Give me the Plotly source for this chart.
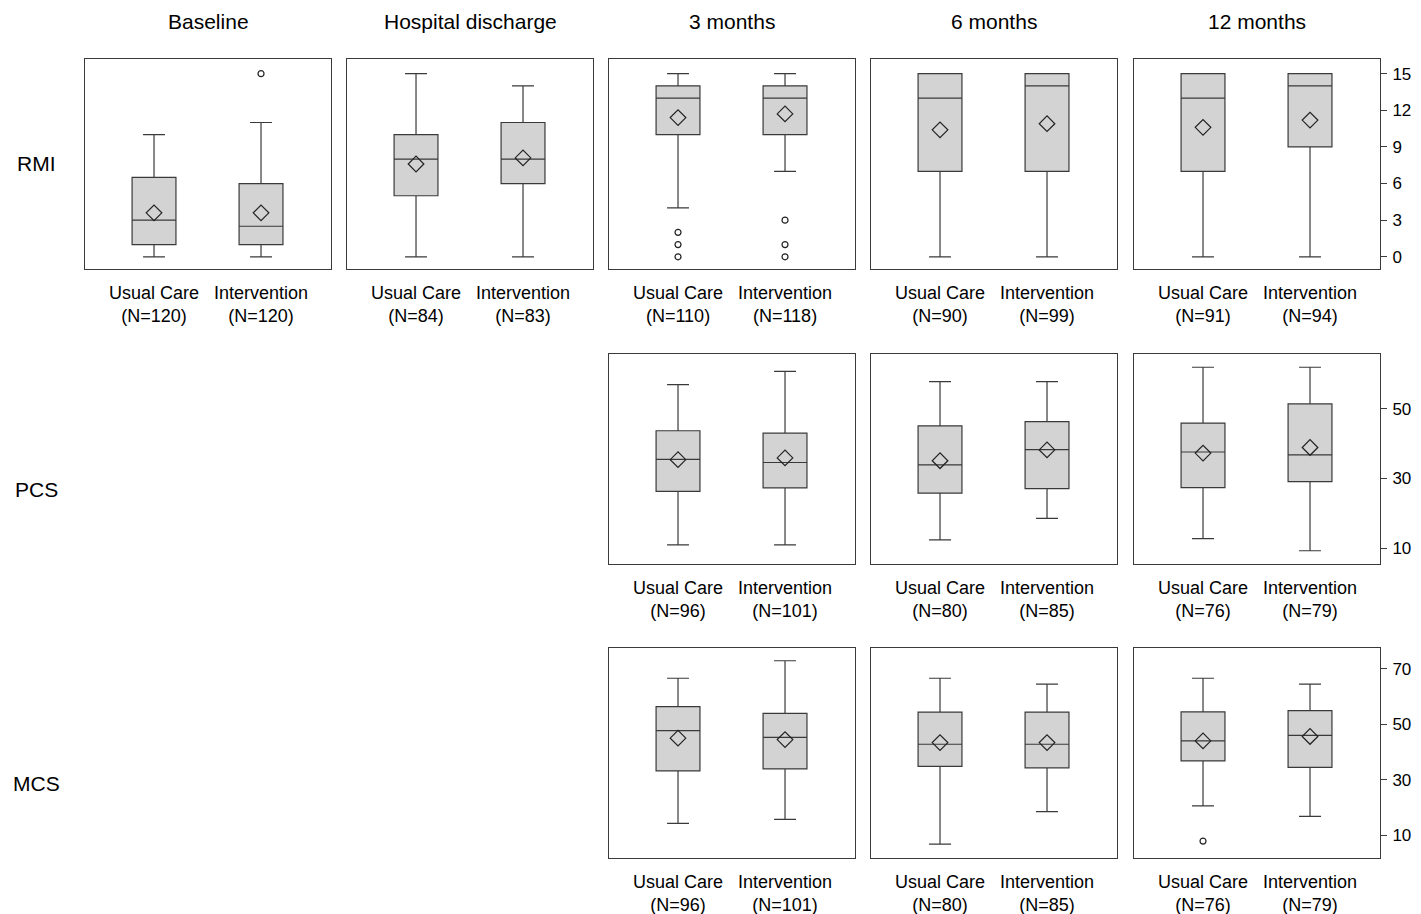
import plotly.graph_objects as go

W, H = 1421, 914
OFF = 7  # page body margin of the html

timepoints = ["Baseline", "Hospital discharge", "3 months", "6 months", "12 months"]
groups = ["Usual Care", "Intervention"]
measures = ["RMI", "PCS", "MCS"]

# RMI (all five time points), each entry = [Usual Care, Intervention]
rmi_n = [[120, 120], [84, 83], [110, 118], [90, 99], [91, 94]]
rmi_lower = [[0, 0], [0, 0], [4, 7], [0, 0], [0, 0]]
rmi_q1 = [[1, 1], [5, 6], [10, 10], [7, 7], [7, 9]]
rmi_median = [[3, 2.5], [8, 8], [13, 13], [13, 14], [13, 14]]
rmi_q3 = [[6.5, 6], [10, 11], [14, 14], [15, 15], [15, 15]]
rmi_upper = [[10, 11], [15, 14], [15, 15], [15, 15], [15, 15]]
rmi_mean = [[3.6, 3.6], [7.6, 8.1], [11.4, 11.7], [10.4, 10.9], [10.6, 11.2]]
rmi_outliers = [[[], [15]], [[], []], [[2, 1, 0], [3, 1, 0]], [[], []], [[], []]]

# PCS (3, 6, 12 months)
pcs_n = [[96, 101], [80, 85], [76, 79]]
pcs_lower = [[11.0, 11.0], [12.4, 18.6], [12.8, 9.3]]
pcs_q1 = [[26.3, 27.3], [25.8, 27.1], [27.4, 29.1]]
pcs_median = [[35.5, 34.6], [33.9, 38.3], [37.6, 36.8]]
pcs_q3 = [[43.7, 43.0], [45.1, 46.3], [45.9, 51.4]]
pcs_upper = [[56.9, 60.7], [57.8, 57.8], [61.9, 61.9]]
pcs_mean = [[35.4, 35.9], [35.1, 38.2], [37.3, 38.9]]
pcs_outliers = [[[], []], [[], []], [[], []]]

# MCS (3, 6, 12 months)
mcs_n = [[96, 101], [80, 85], [76, 79]]
mcs_lower = [[14.3, 15.7], [6.8, 18.5], [20.6, 16.8]]
mcs_q1 = [[33.2, 33.9], [34.8, 34.3], [36.8, 34.5]]
mcs_median = [[47.7, 45.3], [42.8, 42.8], [44.0, 46.0]]
mcs_q3 = [[56.4, 53.9], [54.4, 54.4], [54.5, 54.9]]
mcs_upper = [[66.6, 72.9], [66.6, 64.5], [66.6, 64.5]]
mcs_mean = [[45.0, 44.5], [43.4, 43.4], [44.0, 45.6]]
mcs_outliers = [[[], []], [[], []], [[7.9], []]]

rmi_ticks = [0, 3, 6, 9, 12, 15]
pcs_ticks = [10, 30, 50]
mcs_ticks = [10, 30, 50, 70]

# ---- layout geometry (page pixels) ----
col_x = [(84, 330), (346, 592), (608, 854), (870, 1116), (1133, 1379)]
row_y = [(58, 268), (353, 563), (647, 857)]
y_ranges = [[-1.0, 16.2], [5.5, 65.7], [1.8, 77.5]]
x_range = [-0.645, 1.654]


def px(p):
    return (p - OFF) / W


def py(p):
    return 1 - (p - OFF) / H


FONT = "Liberation Sans, Arial, sans-serif"
LINE = "#3a3a3a"
FILL = "#d3d3d3"

fig = go.Figure()
layout = dict(width=W, height=H, margin=dict(l=0, r=0, t=0, b=0),
              paper_bgcolor="white", plot_bgcolor="white", showlegend=False,
              font=dict(family=FONT, color="black"))

panels = []
for c in range(5):
    panels.append((0, c, c, rmi_n, rmi_lower, rmi_q1, rmi_median, rmi_q3, rmi_upper, rmi_mean, rmi_outliers, rmi_ticks))
for r, (n_, lo, q1, md, q3, up, mn, ou, tk) in enumerate([
        (pcs_n, pcs_lower, pcs_q1, pcs_median, pcs_q3, pcs_upper, pcs_mean, pcs_outliers, pcs_ticks),
        (mcs_n, mcs_lower, mcs_q1, mcs_median, mcs_q3, mcs_upper, mcs_mean, mcs_outliers, mcs_ticks)], start=1):
    for k, c in enumerate([2, 3, 4]):
        panels.append((r, c, k, n_, lo, q1, md, q3, up, mn, ou, tk))

for i, (r, c, k, n_, lo, q1, md, q3, up, mn, ou, tk) in enumerate(panels):
    idx = "" if i == 0 else str(i + 1)
    xa, ya = "x" + idx, "y" + idx
    x0, x1 = col_x[c]
    y0, y1 = row_y[r]
    for g in range(2):
        fig.add_trace(go.Box(
            x=[g], q1=[q1[k][g]], median=[md[k][g]], q3=[q3[k][g]],
            lowerfence=[lo[k][g]], upperfence=[up[k][g]],
            width=0.41, whiskerwidth=0.5, boxpoints=False,
            fillcolor=FILL, line=dict(color=LINE, width=1.2),
            xaxis=xa, yaxis=ya, hoverinfo="skip"))
        fig.add_trace(go.Scatter(
            x=[g], y=[mn[k][g]], mode="markers",
            marker=dict(symbol="diamond-open", size=12, color="#222222",
                        line=dict(width=1.2, color="#222222")),
            xaxis=xa, yaxis=ya, hoverinfo="skip"))
        if ou[k][g]:
            fig.add_trace(go.Scatter(
                x=[g] * len(ou[k][g]), y=ou[k][g], mode="markers",
                marker=dict(symbol="circle-open", size=6, color="#222222",
                            line=dict(width=1.2, color="#222222")),
                xaxis=xa, yaxis=ya, hoverinfo="skip"))
    ticktext = [f"{groups[g]}<br>({'N=' + str(n_[k][g])})" for g in range(2)]
    layout["xaxis" + idx] = dict(
        domain=[px(x0), px(x1)], anchor=ya, range=x_range,
        tickmode="array", tickvals=[0, 1], ticktext=ticktext,
        ticks="outside", ticklen=7, tickcolor="rgba(0,0,0,0)",
        tickfont=dict(size=18, family=FONT, color="black"),
        showline=True, mirror=True, linecolor=LINE, linewidth=1,
        showgrid=False, zeroline=False, fixedrange=True)
    ydict = dict(
        domain=[py(y1), py(y0)], anchor=xa, range=y_ranges[r],
        showline=True, mirror=True, linecolor=LINE, linewidth=1,
        showgrid=False, zeroline=False, fixedrange=True)
    if c == 4:
        ydict.update(side="right", tickmode="array", tickvals=tk,
                     ticks="outside", ticklen=6, tickcolor=LINE, tickwidth=1,
                     ticklabelstandoff=2,
                     tickfont=dict(size=17, family=FONT, color="black"))
    else:
        ydict.update(showticklabels=False, ticks="")
    layout["yaxis" + idx] = ydict

annotations = []
for c, name in enumerate(timepoints):
    annotations.append(dict(text=name, x=px((col_x[c][0] + col_x[c][1]) / 2), y=py(20),
                            xref="paper", yref="paper", showarrow=False,
                            xanchor="center", yanchor="middle",
                            font=dict(size=21, family=FONT, color="black")))
for r, name in enumerate(measures):
    yc = [163, 488, 782][r]
    annotations.append(dict(text=name, x=px(35), y=py(yc),
                            xref="paper", yref="paper", showarrow=False,
                            xanchor="center", yanchor="middle",
                            font=dict(size=21, family=FONT, color="black")))
layout["annotations"] = annotations

fig.update_layout(**layout)
fig.write_html("out.html")
